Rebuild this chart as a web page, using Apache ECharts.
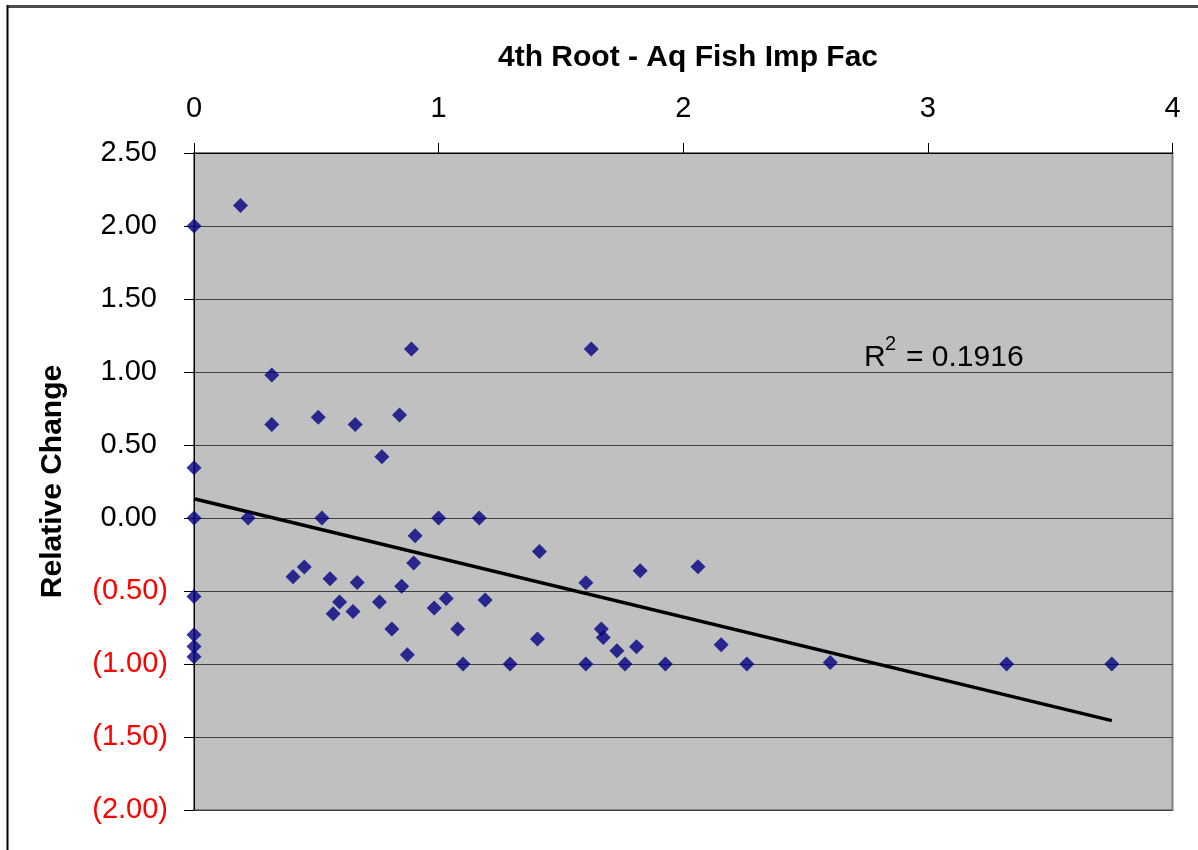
<!DOCTYPE html>
<html>
<head>
<meta charset="utf-8">
<script src="https://cdn.jsdelivr.net/npm/echarts@6/dist/echarts.min.js"></script>
<style>
html,body{margin:0;padding:0;background:#fff;}
#chart{width:1198px;height:850px;}
</style>
</head>
<body>
<div id="chart"></div>
<script>
// Data
var titleText = '4th Root - Aq Fish Imp Fac';
var yAxisName = 'Relative Change';
var xs = [0, 0.19, 0.318, 0.889, 0.318, 0.508, 0.659, 0.84, 0, 0.768,
          0, 0.221, 0.523, 1.0, 1.166, 0.904, 0.451, 0.405, 0.556, 0.667,
          0.898, 0.849, 0, 0.595, 0.758, 0.569, 0.65, 1.031, 0.982, 0,
          0, 0, 0.809, 1.078, 0.872, 1.10, 1.624, 1.412, 1.824, 2.06,
          1.602, 1.19, 1.404, 1.665, 1.673, 1.729, 1.809, 2.155, 1.292, 1.602,
          1.762, 1.927, 2.26, 2.601, 3.322, 3.752];
var ys = [2.00, 2.14, 0.98, 1.157, 0.64, 0.69, 0.64, 0.705, 0.345, 0.42,
          0, 0, 0, 0, 0, -0.121, -0.336, -0.402, -0.416, -0.441,
          -0.308, -0.468, -0.537, -0.575, -0.575, -0.655, -0.64, -0.551, -0.616, -0.80,
          -0.88, -0.95, -0.76, -0.76, -0.936, -1.0, 1.157, -0.229, -0.361, -0.334,
          -0.443, -0.562, -0.829, -0.76, -0.818, -0.909, -0.881, -0.868, -1.0, -1.0,
          -1.0, -1.0, -1.0, -0.989, -1.0, -1.0];
var trendX = [0, 3.752];
var trendY = [0.132, -1.388];
var r2Label = ['R', '2', '= 0.1916'];

var FONT = '"Liberation Sans", Arial, sans-serif';
var points = xs.map(function (x, i) { return [x, ys[i]]; });
var trend = trendX.map(function (x, i) { return [x, trendY[i]]; });

var chart = echarts.init(document.getElementById('chart'), null, {renderer: 'canvas'});
var option = {
  animation: false,
  backgroundColor: '#ffffff',
  title: {
    text: titleText,
    left: 683, top: 38, textAlign: 'center',
    textStyle: {fontFamily: FONT, fontSize: 30, fontWeight: 'bold', color: '#000'}
  },
  grid: {
    left: 194, top: 153, width: 978.5, height: 657,
    show: true, backgroundColor: '#C0C0C0', borderColor: '#808080', borderWidth: 2
  },
  xAxis: {
    type: 'value', position: 'top', min: 0, max: 4, interval: 1,
    axisLine: {show: true, onZero: false, lineStyle: {color: '#000', width: 1}},
    axisTick: {show: true, inside: false, length: 10, lineStyle: {color: '#000', width: 1}},
    splitLine: {show: false},
    axisLabel: {fontFamily: FONT, fontSize: 29, color: '#000', margin: 30}
  },
  yAxis: {
    type: 'value', min: -2, max: 2.5, interval: 0.5,
    name: yAxisName, nameLocation: 'middle', nameRotate: 90, nameGap: 126,
    nameTextStyle: {fontFamily: FONT, fontSize: 30, fontWeight: 'bold', color: '#000'},
    axisLine: {show: true, onZero: false, lineStyle: {color: '#000', width: 1}},
    axisTick: {show: true, inside: false, length: 10, lineStyle: {color: '#000', width: 1}},
    splitLine: {show: true, lineStyle: {color: '#404040', width: 1.2}},
    axisLabel: {
      fontFamily: FONT, fontSize: 29, margin: 26,
      formatter: function (v) {
        if (v < 0) return '{neg|(' + Math.abs(v).toFixed(2) + ')}';
        return '{pos|' + v.toFixed(2) + '}';
      },
      rich: {
        neg: {fontFamily: FONT, fontSize: 29, color: '#ff0000'},
        pos: {fontFamily: FONT, fontSize: 29, color: '#000000', padding: [0, 11, 0, 0]}
      }
    }
  },
  series: [
    {
      type: 'scatter', data: points, symbol: 'diamond', symbolSize: 15,
      itemStyle: {color: '#000080'}, z: 3
    },
    {
      type: 'line', data: trend, showSymbol: false, symbol: 'none',
      lineStyle: {color: '#000', width: 3.5}, z: 2, silent: true
    }
  ],
  graphic: [
    {type: 'line', shape: {x1: 7.5, y1: 6.5, x2: 1198, y2: 6.5}, style: {stroke: '#4a4a4a', lineWidth: 3}},
    {type: 'line', shape: {x1: 7.5, y1: 5, x2: 7.5, y2: 850}, style: {stroke: '#000', lineWidth: 2}},
    {type: 'text', left: 864, top: 343, style: {text: r2Label[0], font: '30px ' + FONT, fill: '#000'}},
    {type: 'text', left: 885, top: 334, style: {text: r2Label[1], font: '20px ' + FONT, fill: '#000'}},
    {type: 'text', left: 906, top: 343, style: {text: r2Label[2], font: '30px ' + FONT, fill: '#000'}}
  ]
};
chart.setOption(option);
</script>
</body>
</html>
